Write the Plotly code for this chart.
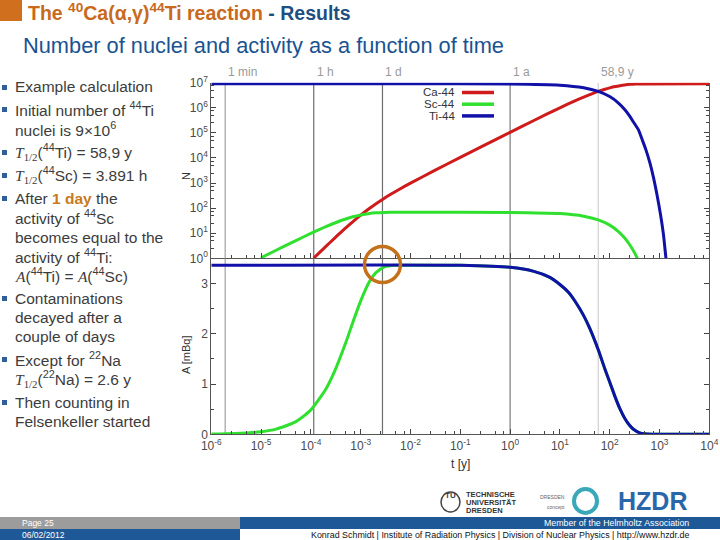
import math
import plotly.graph_objects as go

W, H = 720, 540
def X(px): return px / W
def Y(py): return 1 - py / H

# ---------------- data ----------------
species = ["Ca-44", "Sc-44", "Ti-44"]
colors = {"Ca-44": "#cf1b1b", "Sc-44": "#2fe02f", "Ti-44": "#1111a8"}

# number of nuclei N(t), t in years
ca_N_t = [1.14e-4, 1.5e-4, 2e-4, 3e-4, 4e-4, 5.5e-4, 7e-4, 1e-3, 1.4e-3, 2e-3, 2.74e-3, 4e-3, 6e-3,
          1e-2, 3e-2, 0.1, 0.3, 1, 3, 10, 20, 30, 45, 58.9, 80, 100, 130, 160, 200, 260, 330, 450, 1e4]
ca_N = [1.02, 1.72, 2.98, 6.4, 10.9, 19.2, 29.0, 52.3, 88, 147, 223, 356, 568,
        991, 3107, 1.052e4, 3.16e4, 1.05e5, 3.12e5, 1.0e6, 1.89e6, 2.68e6, 3.70e6, 4.5e6, 5.49e6,
        6.23e6, 7.05e6, 7.63e6, 8.15e6, 8.58e6, 8.81e6, 8.955e6, 9.0e6]

sc_N_t = [1e-5, 2e-5, 5e-5, 1e-4, 2e-4, 3.5e-4, 5e-4, 7e-4, 1e-3, 1.5e-3, 2e-3, 3e-3, 5e-3, 1e-2,
          1, 10, 30, 58.9, 100, 150, 200, 250, 300, 350, 380]
sc_N = [1.05, 2.09, 5.10, 9.82, 18.2, 28.6, 36.8, 45.2, 53.6, 61.4, 64.9, 67.3, 68.5, 68.5,
        67.6, 60.8, 47.8, 34.0, 21.0, 11.6, 6.4, 3.55, 1.98, 1.1, 0.77]

ti_N_t = [1e-6, 1e-2, 1, 10, 30, 58.9, 100, 150, 200, 250, 300, 376, 450, 530, 644, 760,
          891, 1050, 1200, 1349, 1450]
ti_N = [9.0e6, 9.0e6, 8.9e6, 8.0e6, 6.3e6, 4.5e6, 2.8e6, 1.55e6, 8.6e5, 4.8e5, 2.7e5, 1.35e5,
        5.3e4, 2.2e4, 6.2e3, 1.6e3, 3.4e2, 55, 9, 1.0, 0.35]

# activity A(t) in mBq
ti_A_t = [1e-6, 0.1, 1, 3, 6, 10, 15, 20, 30, 40, 58.9, 80, 100, 130, 160, 200, 250, 300,
          400, 500, 700, 1e3, 1e4]
ti_A = [3.36, 3.36, 3.32, 3.24, 3.13, 2.98, 2.82, 2.65, 2.36, 2.10, 1.68, 1.30, 1.04, 0.73,
        0.51, 0.32, 0.18, 0.10, 0.03, 0.01, 0.001, 0.0, 0.0]

sc_A_t = [1e-6, 3e-6, 1e-5, 2e-5, 5e-5, 1e-4, 2e-4, 3e-4, 5e-4, 7e-4, 1e-3, 1.5e-3, 2e-3, 3e-3,
          5e-3, 1e-2, 0.1, 1, 3, 6, 10, 15, 20, 30, 40, 58.9, 80, 100, 130, 160, 200, 250, 300,
          400, 500, 700, 1e3, 1e4]
sc_A = [0.005, 0.016, 0.052, 0.103, 0.252, 0.486, 0.90, 1.256, 1.82, 2.235, 2.654, 3.04, 3.21,
        3.33, 3.36, 3.36, 3.36, 3.32, 3.24, 3.13, 2.98, 2.82, 2.65, 2.36, 2.10, 1.68, 1.30, 1.04,
        0.73, 0.51, 0.32, 0.18, 0.10, 0.03, 0.01, 0.001, 0.0, 0.0]

# reference times (years) shown on the top axis
ref_t = [1.9e-6, 1.141e-4, 2.738e-3, 1.0, 58.9]
ref_labels = ["1 min", "1 h", "1 d", "1 a", "58,9 y"]
ref_colors = ["#a0a0a0", "#6e6e6e", "#6e6e6e", "#7a7a7a", "#d0d0d0"]

x_decades = list(range(-6, 5))
N_decades = list(range(0, 8))
A_ticks = [0, 1, 2, 3]

# ---------------- figure ----------------
fig = go.Figure()

for t, c in zip(ref_t, ref_colors):
    fig.add_trace(go.Scatter(x=[t, t], y=[1, 1e7], mode="lines", line=dict(color=c, width=1.2),
                             xaxis="x", yaxis="y", hoverinfo="skip"))
    fig.add_trace(go.Scatter(x=[t, t], y=[0, 3.5], mode="lines", line=dict(color=c, width=1.2),
                             xaxis="x2", yaxis="y2", hoverinfo="skip"))

N_series = {"Ca-44": (ca_N_t, ca_N), "Sc-44": (sc_N_t, sc_N), "Ti-44": (ti_N_t, ti_N)}
for s in species:
    tx, vy = N_series[s]
    fig.add_trace(go.Scatter(x=tx, y=vy, mode="lines", name=s,
                             line=dict(color=colors[s], width=3, shape="spline", smoothing=0.6),
                             xaxis="x", yaxis="y"))

A_series = {"Sc-44": (sc_A_t, sc_A), "Ti-44": (ti_A_t, ti_A)}
for s in ["Sc-44", "Ti-44"]:
    tx, vy = A_series[s]
    fig.add_trace(go.Scatter(x=tx, y=vy, mode="lines", name=s,
                             line=dict(color=colors[s], width=3, shape="spline", smoothing=0.6),
                             xaxis="x2", yaxis="y2"))

minor_log = [m * 10 ** k for k in range(-6, 4) for m in (2.5, 5, 7.5)]
minor_logN = [m * 10 ** k for k in range(0, 7) for m in (2.5, 5, 7.5)]
tickfont = dict(family="Liberation Sans, Arial", size=12, color="#4a4a4a")
xdom = [X(211.3), X(709.3)]
up_dom = [Y(258.3), Y(82.7)]
lo_dom = [Y(434.3), Y(258.3)]

def sup(e):
    return "10<sup>%d</sup>" % e

common = dict(showgrid=False, zeroline=False, showline=True, linecolor="#555", linewidth=1,
              ticks="inside", ticklen=5, tickcolor="#444", automargin=False)

fig.update_layout(
    width=W, height=H, margin=dict(l=0, r=0, t=0, b=0, pad=0, autoexpand=False),
    paper_bgcolor="white", plot_bgcolor="white", showlegend=False,
    xaxis=dict(type="log", range=[-6, 4], domain=xdom, anchor="y",
               tickvals=[10 ** e for e in x_decades], showticklabels=False,
               minor=dict(tickvals=minor_log, ticks="inside", ticklen=3, tickcolor="#444", showgrid=False),
               **common),
    yaxis=dict(type="log", range=[0, 7], domain=up_dom, anchor="x", mirror="ticks",
               tickvals=[10 ** e for e in N_decades],
               ticktext=[sup(e) for e in N_decades], tickfont=tickfont,
               minor=dict(tickvals=minor_logN, ticks="inside", ticklen=3, tickcolor="#444", showgrid=False),
               **common),
    xaxis2=dict(type="log", range=[-6, 4], domain=xdom, anchor="y2",
                tickvals=[10 ** e for e in x_decades],
                ticktext=[sup(e) for e in x_decades], tickfont=tickfont,
                minor=dict(tickvals=minor_log, ticks="inside", ticklen=3, tickcolor="#444", showgrid=False),
                **common),
    yaxis2=dict(range=[0, 3.5], domain=lo_dom, anchor="x2", mirror="ticks",
                tickvals=A_ticks, tickfont=tickfont,
                minor=dict(tickvals=[0.5, 1.5, 2.5, 3.5], ticks="inside", ticklen=3,
                           tickcolor="#444", showgrid=False),
                **common),
)

ann = []
shapes = []
ff = "Liberation Sans, Arial"

# top-axis reference labels
for t, lab in zip(ref_t, ref_labels):
    ann.append(dict(x=math.log10(t), y=Y(72), xref="x", yref="paper", text=lab, showarrow=False,
                    xanchor="left", yanchor="middle", xshift=1,
                    font=dict(family=ff, size=12, color="#9a9a9a")))

# axis titles
axf = dict(family=ff, size=11, color="#333")
ann.append(dict(x=X(178), y=Y(170), xref="paper", yref="paper", text="N", showarrow=False,
                textangle=-90, font=axf))
ann.append(dict(x=X(178), y=Y(355), xref="paper", yref="paper", text="A [mBq]", showarrow=False,
                textangle=-90, font=axf))
ann.append(dict(x=X(449), y=Y(464), xref="paper", yref="paper", text="t [y]", showarrow=False,
                xanchor="left", yanchor="middle", font=dict(family=ff, size=12, color="#333")))

# legend (text left of line sample)
for i, s in enumerate(species):
    yy = 92.5 + 11.7 * i
    ann.append(dict(x=X(456), y=Y(yy), xref="paper", yref="paper", text=s, showarrow=False,
                    xanchor="right", yanchor="middle", borderpad=0,
                    font=dict(family=ff, size=11.5, color="#333")))
    shapes.append(dict(type="line", xref="paper", yref="paper", x0=X(462), x1=X(494),
                       y0=Y(yy), y1=Y(yy), line=dict(color=colors[s], width=3.5)))

# orange circle highlighting the equality of activities
shapes.append(dict(type="circle", xref="paper", yref="paper", x0=X(364.5), x1=X(400.5),
                   y0=Y(282.5), y1=Y(246.5), line=dict(color="#c4711c", width=3.5)))

# title
shapes.append(dict(type="rect", xref="paper", yref="paper", x0=0, x1=X(22), y0=Y(21), y1=1,
                   fillcolor="#d0701e", line=dict(width=0)))
ann.append(dict(x=X(26), y=Y(12), xref="paper", yref="paper", showarrow=False, xanchor="left",
                yanchor="middle",
                text="<b><span style='color:#c8691c'>The <sup>40</sup>Ca(α,γ)<sup>44</sup>Ti reaction</span>"
                     "<span style='color:#1f4f80'> - Results</span></b>",
                font=dict(family=ff, size=19.5)))
ann.append(dict(x=X(21), y=Y(46), xref="paper", yref="paper", showarrow=False, xanchor="left",
                yanchor="middle", text="Number of nuclei and activity as a function of time",
                font=dict(family=ff, size=21.8, color="#1a5391")))

# bullet text
T12 = "<span style='font-family:Liberation Serif'><i>T</i><sub>1/2</sub></span>"
Ait = "<span style='font-family:Liberation Serif'><i>A</i></span>"
lines = [
    (87, True, "Example calculation"),
    (109, True, "Initial number of <sup>44</sup>Ti"),
    (129, False, "nuclei is 9×10<sup>6</sup>"),
    (152, True, T12 + "(<sup>44</sup>Ti) = 58,9 y"),
    (175, True, T12 + "(<sup>44</sup>Sc) = 3.891 h"),
    (198, True, "After <b><span style='color:#c8791c'>1 day</span></b> the"),
    (217, False, "activity of <sup>44</sup>Sc"),
    (237, False, "becomes equal to the"),
    (256, False, "activity of <sup>44</sup>Ti:"),
    (275, False, Ait + "(<sup>44</sup>Ti) = " + Ait + "(<sup>44</sup>Sc)"),
    (298, True, "Contaminations"),
    (317, False, "decayed after a"),
    (336, False, "couple of days"),
    (359, True, "Except for <sup>22</sup>Na"),
    (379, False, T12 + "(<sup>22</sup>Na) = 2.6 y"),
    (402, True, "Then counting in"),
    (421, False, "Felsenkeller started"),
]
for yy, bullet, txt in lines:
    ann.append(dict(x=X(13), y=Y(yy), xref="paper", yref="paper", text=txt, showarrow=False,
                    xanchor="left", yanchor="middle",
                    font=dict(family=ff, size=15.5, color="#3c3c3c")))
    if bullet:
        shapes.append(dict(type="rect", xref="paper", yref="paper", x0=X(2), x1=X(7),
                           y0=Y(yy + 3), y1=Y(yy - 2), fillcolor="#2f5f98", line=dict(width=0)))

# footer
shapes += [
    dict(type="rect", xref="paper", yref="paper", x0=0, x1=X(240), y0=Y(529), y1=Y(517),
         fillcolor="#9c9c9c", line=dict(width=0)),
    dict(type="rect", xref="paper", yref="paper", x0=0, x1=X(240), y0=0, y1=Y(529),
         fillcolor="#1f5896", line=dict(width=0)),
    dict(type="rect", xref="paper", yref="paper", x0=X(240), x1=1, y0=Y(529), y1=Y(517),
         fillcolor="#1f5896", line=dict(width=0)),
]
ann += [
    dict(x=X(20), y=Y(523), xref="paper", yref="paper", text="Page 25", showarrow=False,
         xanchor="left", yanchor="middle", font=dict(family=ff, size=8.5, color="white")),
    dict(x=X(20), y=Y(535), xref="paper", yref="paper", text="06/02/2012", showarrow=False,
         xanchor="left", yanchor="middle", font=dict(family=ff, size=8.5, color="white")),
    dict(x=X(691), y=Y(523), xref="paper", yref="paper", text="Member of the Helmholtz Association",
         showarrow=False, xanchor="right", yanchor="middle", font=dict(family=ff, size=8.8, color="white")),
    dict(x=X(691), y=Y(535), xref="paper", yref="paper",
         text="Konrad Schmidt | Institute of Radiation Physics | Division of Nuclear Physics | http://www.hzdr.de",
         showarrow=False, xanchor="right", yanchor="middle", font=dict(family=ff, size=8.9, color="#111")),
]

# logos (approximate)
shapes.append(dict(type="circle", xref="paper", yref="paper", x0=X(441), x1=X(460), y0=Y(512),
                   y1=Y(492), line=dict(color="#444", width=1.5)))
ann.append(dict(x=X(450.5), y=Y(502), xref="paper", yref="paper", text="<b>TU</b>", showarrow=False,
                font=dict(family=ff, size=8, color="#444")))
for i, w in enumerate(["TECHNISCHE", "UNIVERSITÄT", "DRESDEN"]):
    ann.append(dict(x=X(465), y=Y(494 + 8 * i), xref="paper", yref="paper", text="<b>%s</b>" % w,
                    showarrow=False, xanchor="left", yanchor="middle", borderpad=0,
                    font=dict(family=ff, size=7.5, color="#333")))
ann.append(dict(x=X(567), y=Y(497), xref="paper", yref="paper", text="DRESDEN", showarrow=False,
                xanchor="right", yanchor="middle", font=dict(family=ff, size=5, color="#666")))
ann.append(dict(x=X(567), y=Y(507), xref="paper", yref="paper", text="concept", showarrow=False,
                xanchor="right", yanchor="middle", font=dict(family=ff, size=5, color="#666")))
shapes.append(dict(type="circle", xref="paper", yref="paper", x0=X(574), x1=X(597), y0=Y(513),
                   y1=Y(489), line=dict(color="#3aa8b8", width=4)))
ann.append(dict(x=X(652), y=Y(501), xref="paper", yref="paper", text="<b>HZDR</b>", showarrow=False,
                xanchor="center", yanchor="middle", font=dict(family=ff, size=25, color="#2a67aa")))

fig.update_layout(annotations=ann, shapes=shapes)
fig.write_html("out.html")
